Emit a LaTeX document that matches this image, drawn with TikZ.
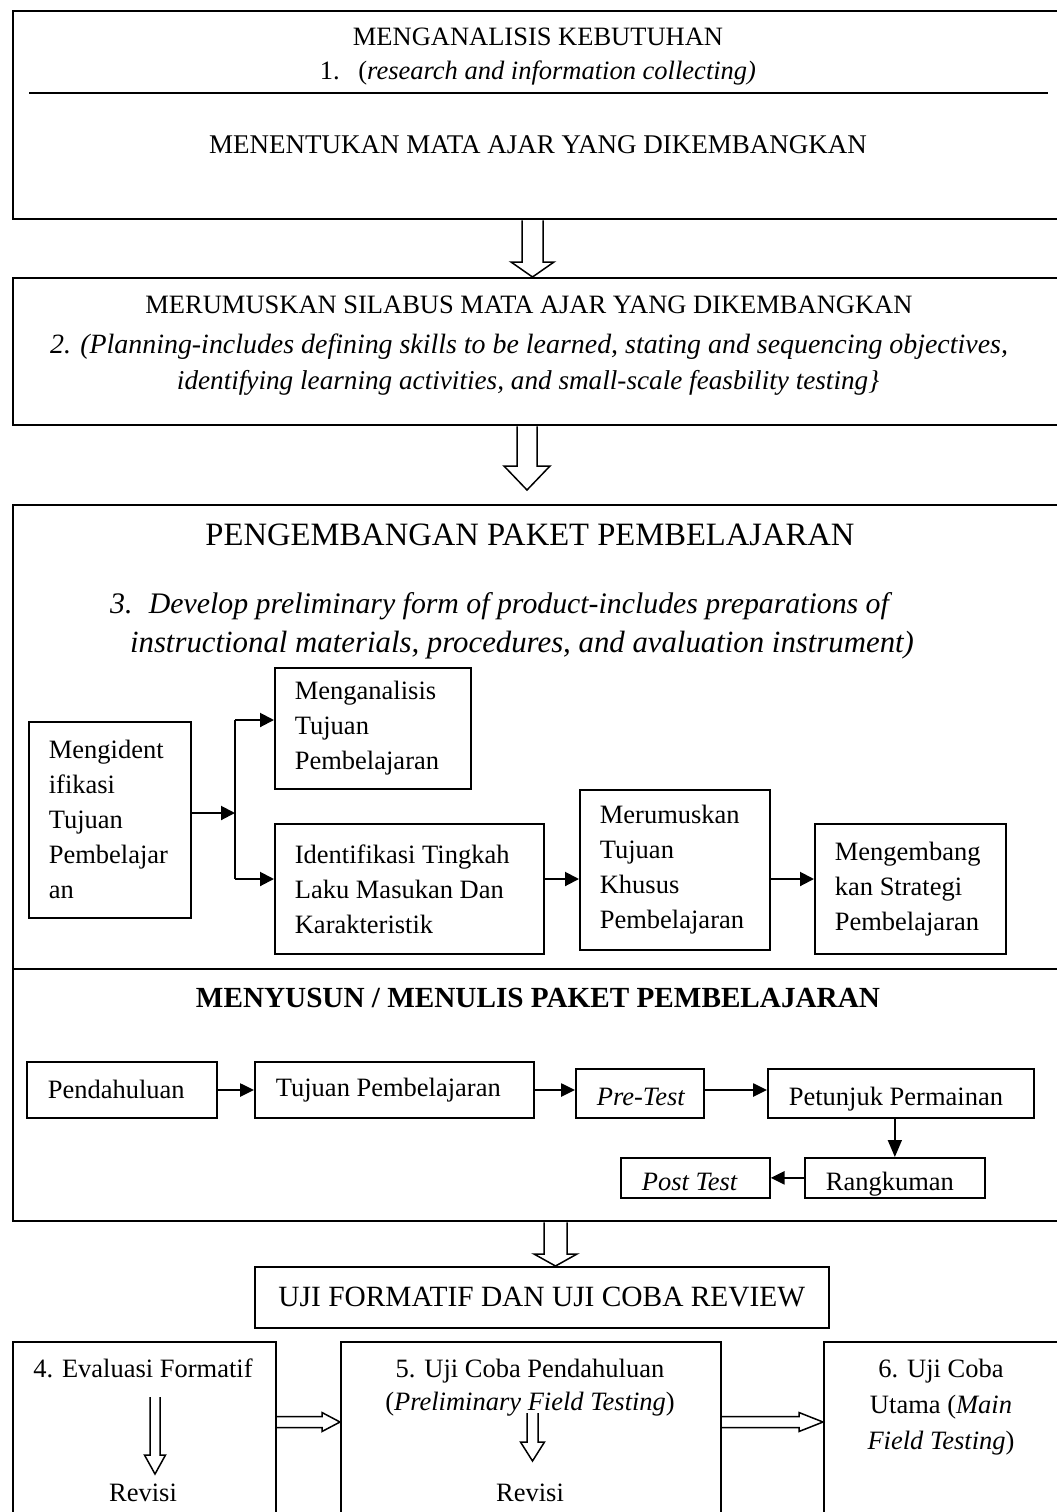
\documentclass[tikz,border=0pt]{standalone}
\usepackage{fontspec}
\setmainfont{Liberation Serif}
\usetikzlibrary{calc,arrows.meta}
\newcommand\fsn{\fontsize{26.5}{35}\selectfont}
\newcommand\fsz[1]{\fontsize{#1}{35}\selectfont}
\newcommand\fuji{\fontsize{29.4}{35}\selectfont}
\newcommand\vblock[5]{\draw[hollow] ($(#1)+(-#3,0)$) -- ($(#2)+(-#3,-#5)$) -- ($(#2)+(-#4,-#5)$) -- (#2) -- ($(#2)+(#4,-#5)$) -- ($(#2)+(#3,-#5)$) -- ($(#1)+(#3,0)$);}
\newcommand\hblock[5]{\draw[hollow] ($(#1)+(0,-#3)$) -- ($(#2)+(-#5,-#3)$) -- ($(#2)+(-#5,-#4)$) -- (#2) -- ($(#2)+(-#5,#4)$) -- ($(#2)+(-#5,#3)$) -- ($(#1)+(0,#3)$);}
\begin{document}
\begin{tikzpicture}[x=1pt,y=-1pt,
  bigbox/.style={draw, line width=2.4pt, anchor=north west, inner sep=0pt},
  sbox/.style={draw, line width=1.7pt, anchor=north west, inner xsep=20pt, inner ysep=0pt, align=flush left, font=\fsn},
  rbox/.style={draw, line width=1.7pt, anchor=north west, inner xsep=21pt, inner ysep=0pt, align=flush left, font=\fsn},
  txt/.style={anchor=base, inner sep=0pt, font=\fsn},
  arr/.style={line width=2pt, -{Triangle[length=14pt,width=14pt]}},
  arrb/.style={line width=2.6pt, -{Triangle[length=14pt,width=13pt]}},
  ln/.style={line width=2pt},
  hollow/.style={draw, line width=1.5pt, line join=miter},
]
\useasboundingbox (0,0) rectangle (1057,1512);
\clip (0,0) rectangle (1057,1512);

% ---------- box 1
\node[bigbox, minimum width=1050, minimum height=208] (b1) at (12,10) {};
\draw[line width=2.4pt] (29,93) -- (1048,93);
\node[txt] (t1a) at (538,46) {MENGANALISIS KEBUTUHAN};
\node[txt] (t1b) at (538,80) {1.\hspace{0.7em}(\textit{research and information collecting)}};
\node[txt, font=\fsz{27}] (t1c) at (538,153) {MENENTUKAN MATA AJAR YANG DIKEMBANGKAN};

% ---------- box 2
\node[bigbox, minimum width=1050, minimum height=147] (b2) at (12,277) {};
\node[txt] (t2a) at (529,313) {MERUMUSKAN SILABUS MATA AJAR YANG DIKEMBANGKAN};
\node[txt, font=\fsz{27.9}\itshape] (t2b) at (529,353) {2. (Planning-includes defining skills to be learned, stating and sequencing objectives,};
\node[txt, font=\fsz{27.2}\itshape] (t2c) at (528,389) {identifying learning activities, and small-scale feasbility testing\}};

% ---------- box 3
\node[bigbox, minimum width=1050, minimum height=716] (b3) at (12,504) {};
\draw[line width=2.4pt] (b3.north west |- 0,969) -- (b3.north east |- 0,969);
\node[txt, font=\fsz{32.6}] (t3a) at (530,545) {PENGEMBANGAN PAKET PEMBELAJARAN};
\node[txt, anchor=base west, font=\fsz{29.8}\itshape] (t3b) at (110,613) {3.\hspace{0.55em}Develop preliminary form of product-includes preparations of};
\node[txt, font=\fsz{30.8}\itshape] (t3c) at (522,652) {instructional materials, procedures, and avaluation instrument)};

\node[sbox, text width=122, minimum height=196] (idf) at (28,721) {Mengident\\ifikasi\\Tujuan\\Pembelajar\\an};
\node[sbox, text width=156, minimum height=121] (ana) at (274,667) {Menganalisis\\Tujuan\\Pembelajaran};
\node[sbox, text width=229, minimum height=130] (itl) at (274,823) {Identifikasi Tingkah\\Laku Masukan Dan\\Karakteristik};
\node[sbox, text width=150, minimum height=160] (mer) at (579,789) {Merumuskan\\Tujuan\\Khusus\\Pembelajaran};
\node[sbox, text width=151, minimum height=130] (mgs) at (814,823) {Mengembang\\kan Strategi\\Pembelajaran};

\coordinate (j) at (235,813);
\coordinate (jt) at (235,720);
\coordinate (jb) at (235,879);
\draw[arr] (idf.east |- j) -- (j);
\draw[ln] (jt) -- (jb);
\draw[arr] (jt) -- (jt -| ana.west);
\draw[arr] (jb) -- (jb -| itl.west);
\draw[arr] (jb -| itl.east) -- (jb -| mer.west);
\draw[arr] (jb -| mer.east) -- (jb -| mgs.west);

% ---------- menyusun
\node[txt, font=\fsz{29.2}\bfseries] (t4a) at (538,1007) {MENYUSUN / MENULIS PAKET PEMBELAJARAN};
\node[rbox, text width=148, minimum height=56] (pend) at (26,1061) {Pendahuluan};
\node[rbox, text width=237, minimum height=56] (tuj) at (254,1061) {Tujuan Pembelajaran};
\node[rbox, text width=86, minimum height=49, text height=25, text depth=0, font=\fsn\itshape] (pre) at (575,1068) {\mbox{Pre-Test}};
\node[rbox, text width=224, minimum height=49, text height=25, text depth=0] (pet) at (767,1068) {Petunjuk Permainan};
\node[rbox, text width=138, minimum height=40, text height=33, text depth=7] (ran) at (804,1157) {Rangkuman};
\node[rbox, text width=107, minimum height=40, text height=33, text depth=7, font=\fsn\itshape] (post) at (620,1157) {Post Test};

\coordinate (r2) at (0,1090);
\draw[arrb] (pend.east |- r2) -- (tuj.west |- r2);
\draw[arrb] (tuj.east |- r2) -- (pre.west |- r2);
\draw[arrb] (pre.east |- r2) -- (pet.west |- r2);
\draw[line width=1.6pt, -{Triangle[length=17pt,width=14pt]}] (ran.north |- pet.south) -- (ran.north);
\draw[arrb] (ran.west) -- (post.east);

% ---------- uji
\node[draw, line width=1.7pt, anchor=north west, inner sep=0pt, minimum width=574, minimum height=61, font=\fuji] (uji) at (254,1266) {UJI FORMATIF DAN UJI COBA REVIEW};

\node[bigbox, line width=2pt, minimum width=263, minimum height=200] (b4) at (12,1341) {};
\node[bigbox, line width=2pt, minimum width=380, minimum height=200] (b5) at (340,1341) {};
\node[bigbox, line width=2pt, minimum width=240, minimum height=200] (b6) at (823,1341) {};

\node[txt] (t5a) at (143,1377) {4. Evaluasi Formatif};
\node[txt] (t5b) at (143,1501) {Revisi};
\node[txt] (t6a) at (530,1377) {5. Uji Coba Pendahuluan};
\node[txt] (t6b) at (530,1410) {(\textit{Preliminary Field Testing})};
\node[txt] (t6c) at (530,1501) {Revisi};
\node[txt] (t7a) at (941,1377) {6. Uji Coba};
\node[txt] (t7b) at (941,1413) {Utama (\textit{Main}};
\node[txt] (t7c) at (941,1449) {\textit{Field Testing})};

% ---------- block arrows
\coordinate (ax1) at (532.5,0);
\vblock{b1.south -| ax1}{b2.north -| ax1}{10.5}{21.5}{15}
\coordinate (ax2) at (527,0);
\coordinate (a2e) at (527,490);
\vblock{b2.south -| ax2}{a2e}{10}{23}{24}
\coordinate (ax3) at (555.5,0);
\vblock{b3.south -| ax3}{uji.north -| ax3}{11.5}{21.5}{12}
\coordinate (a4s) at (155,1397);
\coordinate (a4e) at (155,1474);
\vblock{a4s}{a4e}{5}{10.5}{19}
\coordinate (a5s) at (532.5,1413);
\coordinate (a5e) at (532.5,1461);
\vblock{a5s}{a5e}{5.5}{12}{19}
\coordinate (hy) at (0,1422);
\hblock{b4.east |- hy}{b5.west |- hy}{5.5}{9.5}{18}
\hblock{b5.east |- hy}{b6.west |- hy}{5.5}{9.5}{24}
\end{tikzpicture}
\end{document}
